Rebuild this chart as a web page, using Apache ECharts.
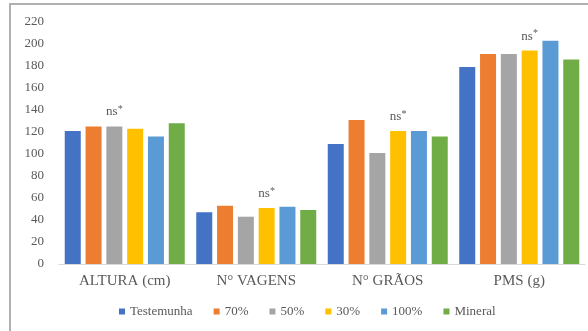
<!DOCTYPE html>
<html>
<head>
<meta charset="utf-8">
<script src="https://cdn.jsdelivr.net/npm/echarts@6/dist/echarts.min.js"></script>
<style>
  html, body { margin: 0; padding: 0; background: #fff; }
  #chart { width: 588px; height: 331px; }
</style>
</head>
<body>
<div id="chart"></div>
<script>
// dados
const categories = ['ALTURA (cm)', 'N° VAGENS', 'N° GRÃOS', 'PMS (g)'];
const seriesNames = ['Testemunha', '70%', '50%', '30%', '100%', 'Mineral'];
const testemunha = [121, 47, 109, 179];
const pct70 = [125, 53, 131, 191];
const pct50 = [125, 43, 101, 191];
const pct30 = [123, 51, 121, 194];
const pct100 = [116, 52, 121, 203];
const mineral = [128, 49, 116, 186];
// série que recebe a anotação "ns*" em cada categoria
const nsOnSeries = [2, 3, 3, 3];
const yTicks = [0, 20, 40, 60, 80, 100, 120, 140, 160, 180, 200, 220];

const colors = ['#4472C4', '#ED7D31', '#A5A5A5', '#FFC000', '#5B9BD5', '#70AD47'];
const values = [testemunha, pct70, pct50, pct30, pct100, mineral];
const font = '"Liberation Serif", "DejaVu Serif", serif';

const chart = echarts.init(document.getElementById('chart'));

const series = values.map((vals, si) => ({
  name: seriesNames[si],
  type: 'bar',
  barWidth: 16,
  barGap: '30%',
  itemStyle: { color: colors[si] },
  data: vals.map((v, ci) => {
    if (nsOnSeries[ci] !== si) return v;
    return {
      value: v,
      label: {
        show: true,
        position: 'top',
        distance: 7,
        formatter: 'ns{s|*}',
        color: '#595959',
        fontFamily: font,
        fontSize: 13,
        rich: { s: { fontSize: 10, verticalAlign: 'top', padding: [0, 0, 5, 0], color: '#595959' } }
      }
    };
  })
}));

chart.setOption({
  animation: false,
  backgroundColor: '#fff',
  graphic: [{
    type: 'polyline',
    shape: { points: [[10, 331], [10, 4], [588, 4]] },
    style: { fill: 'none', stroke: '#b0b0b0', lineWidth: 2 }
  }],
  grid: { left: 59, right: 3, top: 22, bottom: 67 },
  legend: {
    bottom: 8,
    left: 114,
    itemWidth: 6,
    itemHeight: 6,
    itemGap: 21,
    icon: 'rect',
    textStyle: { fontFamily: font, fontSize: 13, color: '#595959' },
    data: seriesNames
  },
  xAxis: {
    type: 'category',
    data: categories,
    axisLine: { lineStyle: { color: '#d9d9d9' } },
    axisTick: { show: false },
    axisLabel: { fontFamily: font, fontSize: 15, color: '#595959', margin: 10 }
  },
  yAxis: {
    type: 'value',
    min: yTicks[0],
    max: yTicks[yTicks.length - 1],
    interval: 20,
    splitLine: { show: false },
    axisLine: { show: false },
    axisTick: { show: false },
    axisLabel: { fontFamily: font, fontSize: 13, color: '#595959', margin: 15 }
  },
  series: series
});
</script>
</body>
</html>
